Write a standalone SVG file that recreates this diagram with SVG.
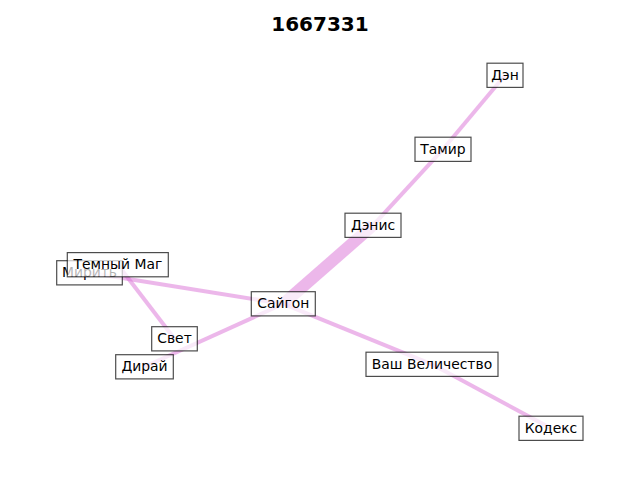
<svg xmlns="http://www.w3.org/2000/svg" width="640" height="480" viewBox="0 0 640 480">
<style>
  .e { stroke: #DA70D6; stroke-opacity: 0.5; stroke-width: 4; fill: none; }
  .box { fill: #ffffff; fill-opacity: 0.7; stroke: #000000; stroke-opacity: 0.7; stroke-width: 1.2; }
  .lbl { font-family: "DejaVu Sans", sans-serif; font-size: 13.9px; fill: #000; text-anchor: middle; }
  .title { font-family: "DejaVu Sans", sans-serif; font-size: 20px; font-weight: bold; fill: #000; text-anchor: middle; }
</style>
<rect width="640" height="480" fill="#ffffff"/>
<text class="title" x="320" y="31">1667331</text>
<g id="edges">
  <line class="e" x1="505" y1="75.3" x2="443" y2="149.3"/>
  <line class="e" x1="443" y1="149.3" x2="373" y2="225.3"/>
  <line class="e" x1="373" y1="225.3" x2="283.3" y2="303.8" style="stroke-width:12"/>
  <line class="e" x1="283.3" y1="303.8" x2="89.5" y2="272.8"/>
  <line class="e" x1="117.8" y1="264.7" x2="174.5" y2="338.8"/>
  <line class="e" x1="144.5" y1="366.8" x2="283.3" y2="303.8"/>
  <line class="e" x1="283.3" y1="303.8" x2="432" y2="364.3"/>
  <line class="e" x1="432" y1="364.3" x2="551" y2="428.3"/>
</g>
<g id="node-den">
  <rect class="box" x="487" y="63.2" width="36" height="24.2"/>
  <text class="lbl" x="505" y="79.6">Дэн</text>
</g>
<g id="node-tamir">
  <rect class="box" x="415" y="137.2" width="56" height="24.2"/>
  <text class="lbl" x="443" y="153.6">Тамир</text>
</g>
<g id="node-denis">
  <rect class="box" x="345" y="213.2" width="56" height="24.2"/>
  <text class="lbl" x="373" y="229.6">Дэнис</text>
</g>
<g id="node-saigon">
  <rect class="box" x="251.3" y="291.7" width="64" height="24.2"/>
  <text class="lbl" x="283.3" y="308.1">Сайгон</text>
</g>
<g id="node-vv">
  <rect class="box" x="366" y="352.2" width="132" height="24.2"/>
  <text class="lbl" x="432" y="368.6">Ваш Величество</text>
</g>
<g id="node-kodeks">
  <rect class="box" x="519" y="416.2" width="64" height="24.2"/>
  <text class="lbl" x="551" y="432.6">Кодекс</text>
</g>
<g id="node-mirit">
  <rect class="box" x="56.7" y="260.7" width="65.6" height="24.2"/>
  <text class="lbl" x="89.5" y="277.1">Мирить</text>
</g>
<g id="node-temny-mag">
  <rect class="box" x="67.3" y="252.6" width="101" height="24.2"/>
  <text class="lbl" x="117.8" y="269">Темный Маг</text>
</g>
<g id="node-svet">
  <rect class="box" x="151.7" y="326.7" width="45.6" height="24.2"/>
  <text class="lbl" x="174.5" y="343.1">Свет</text>
</g>
<g id="node-diray">
  <rect class="box" x="115.7" y="354.7" width="57.6" height="24.2"/>
  <text class="lbl" x="144.5" y="371.1">Дирай</text>
</g>
</svg>
